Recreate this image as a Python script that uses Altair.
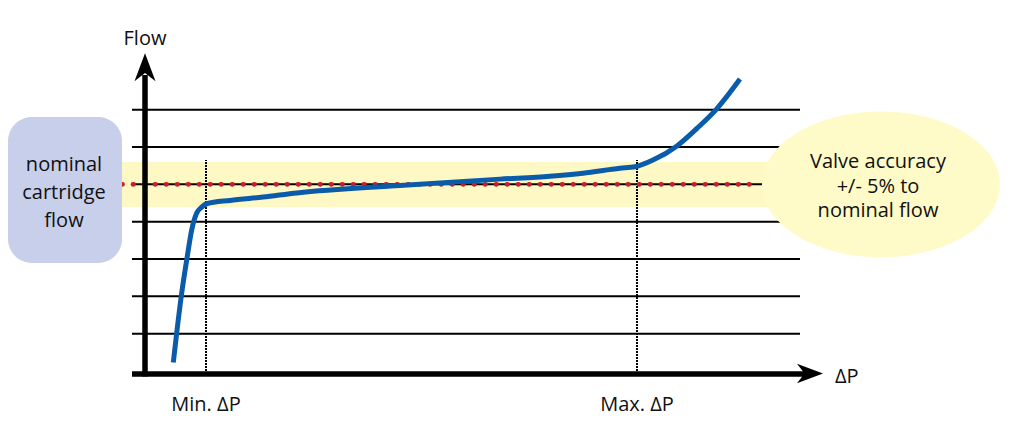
import altair as alt
import pandas as pd

# ---------------- data (diagram units: x = ΔP, y = Flow; gridline spacing = 1) ----------------
grid_levels = [1, 2, 3, 4, 5, 6, 7]
nominal_flow = 5.0
band_low = 4.39
band_high = 5.60
dp_min = 6.1
dp_max = 49.2

curve_dp = [2.83, 3.17, 3.67, 4.17, 4.67, 5.17, 5.67, 6.17, 8.5, 11.8, 15.2, 25.5,
            35.5, 40.5, 43.8, 47.5, 49.0, 50.8, 53.2, 55.2, 57.2, 59.5]
curve_flow = [0.23, 1.02, 2.09, 2.97, 3.78, 4.23, 4.39, 4.48, 4.57, 4.66, 4.77, 4.97,
              5.14, 5.22, 5.30, 5.43, 5.47, 5.65, 6.03, 6.50, 7.03, 7.82]

x_tick_labels = ["Min. ΔP", "Max. ΔP"]
y_title = "Flow"
x_title = "ΔP"
box_text = "nominal\ncartridge\nflow"
ellipse_text = "Valve accuracy\n+/- 5% to\nnominal flow"

# ---------------- scales ----------------
XS = alt.Scale(domain=[-13.7, 86.0], nice=False, zero=False)
YS = alt.Scale(domain=[-1.366, 9.724], nice=False, zero=False)


def X(f):
    return alt.X(f, type="quantitative", scale=XS, axis=None)


def Y(f):
    return alt.Y(f, type="quantitative", scale=YS, axis=None)


FONT = "Open Sans"
TXT = "#111111"

# yellow tolerance band
band = alt.Chart(pd.DataFrame({"x": [-2.3], "x2": [65.5], "y": [band_low], "y2": [band_high]})).mark_rect(
    color="#fdf8c4"
).encode(x=X("x"), x2="x2", y=Y("y"), y2="y2")

# horizontal gridlines
grid = alt.Chart(pd.DataFrame({"y": grid_levels, "x": [-1.3] * len(grid_levels), "x2": [65.5] * len(grid_levels)})).mark_rule(
    color="black", strokeWidth=2
).encode(x=X("x"), x2="x2", y=Y("y"))

# dotted vertical markers at min / max ΔP
vlines = alt.Chart(pd.DataFrame({"x": [dp_min, dp_max], "y": [-0.08, -0.08], "y2": [5.65, 5.65]})).mark_rule(
    color="#000000", strokeWidth=2, strokeDash=[2, 1]
).encode(x=X("x"), y=Y("y"), y2="y2")

# red dotted nominal line
red = alt.Chart(pd.DataFrame({"x": [-2.3], "x2": [61.3], "y": [nominal_flow]})).mark_rule(
    color="#c8202a", strokeWidth=4.8, strokeDash=[0.5, 10.5], strokeCap="round"
).encode(x=X("x"), x2="x2", y=Y("y"))

# flow curve
curve = alt.Chart(pd.DataFrame({"dp": curve_dp, "flow": curve_flow})).mark_line(
    color="#0b5bab", strokeWidth=5, interpolate="monotone"
).encode(x=X("dp"), y=Y("flow"), order="dp:Q")

# axes
x_axis = alt.Chart(pd.DataFrame({"x": [-1.3], "x2": [66.0], "y": [-0.08]})).mark_rule(
    color="black", strokeWidth=5.5
).encode(x=X("x"), x2="x2", y=Y("y"))
y_axis = alt.Chart(pd.DataFrame({"x": [0.0], "y": [-0.15], "y2": [7.93]})).mark_rule(
    color="black", strokeWidth=5.5
).encode(x=X("x"), y=Y("y"), y2="y2")

UP_ARROW = "M0,-1 L0.75,1 L0,0.42 L-0.75,1 Z"
RIGHT_ARROW = "M1,0 L-1,0.75 L-0.42,0 L-1,-0.75 Z"
arrow_up = alt.Chart(pd.DataFrame({"x": [0.0], "y": [8.14]})).mark_point(
    shape=UP_ARROW, filled=True, color="black", opacity=1, size=784, strokeWidth=0
).encode(x=X("x"), y=Y("y"))
arrow_right = alt.Chart(pd.DataFrame({"x": [66.5], "y": [-0.07]})).mark_point(
    shape=RIGHT_ARROW, filled=True, color="black", opacity=1, size=676, strokeWidth=0
).encode(x=X("x"), y=Y("y"))

# left rounded box
box = alt.Chart(pd.DataFrame({"x": [-13.7], "x2": [-2.3], "y": [2.893], "y2": [6.804]})).mark_rect(
    color="#c7cfea", cornerRadius=24
).encode(x=X("x"), x2="x2", y=Y("y"), y2="y2")

# right ellipse
ELLIPSE = "M-1,0 A1,0.613 0 1,1 1,0 A1,0.613 0 1,1 -1,0 Z"
ellipse = alt.Chart(pd.DataFrame({"x": [73.6], "y": [5.0]})).mark_point(
    shape=ELLIPSE, filled=True, color="#fefbc8", opacity=1, size=56644, strokeWidth=0
).encode(x=X("x"), y=Y("y"))

# texts
box_label = alt.Chart(pd.DataFrame({"x": [-8.1], "y": [5.358], "t": [box_text]})).mark_text(
    font=FONT, fontSize=20, align="center", baseline="alphabetic", lineBreak="\n", lineHeight=28, color=TXT
).encode(x=X("x"), y=Y("y"), text="t:N")

ellipse_label = alt.Chart(pd.DataFrame({"x": [73.3], "y": [5.43], "t": [ellipse_text]})).mark_text(
    font=FONT, fontSize=20, align="center", baseline="alphabetic", lineBreak="\n", lineHeight=24.5, color=TXT
).encode(x=X("x"), y=Y("y"), text="t:N")

tick_labels = alt.Chart(pd.DataFrame({"x": [dp_min, dp_max], "y": [-1.072, -1.072], "t": x_tick_labels})).mark_text(
    font=FONT, fontSize=20, align="center", baseline="alphabetic", color=TXT
).encode(x=X("x"), y=Y("y"), text="t:N")

flow_label = alt.Chart(pd.DataFrame({"x": [0.0], "y": [8.733], "t": [y_title]})).mark_text(
    font=FONT, fontSize=20, align="center", baseline="alphabetic", color=TXT
).encode(x=X("x"), y=Y("y"), text="t:N")

dp_label = alt.Chart(pd.DataFrame({"x": [69.0], "y": [-0.321], "t": [x_title]})).mark_text(
    font=FONT, fontSize=20, align="left", baseline="alphabetic", color=TXT
).encode(x=X("x"), y=Y("y"), text="t:N")

chart = alt.layer(
    band, grid, vlines, red, curve, x_axis, y_axis, arrow_up, arrow_right,
    box, ellipse, box_label, ellipse_label, tick_labels, flow_label, dp_label
).properties(
    width=997, height=414, autosize=alt.AutoSizeParams(type="none"), padding=0, background="white"
).configure_view(strokeWidth=0)

chart.save("out.html", embed_options={"renderer": "svg", "actions": False})
